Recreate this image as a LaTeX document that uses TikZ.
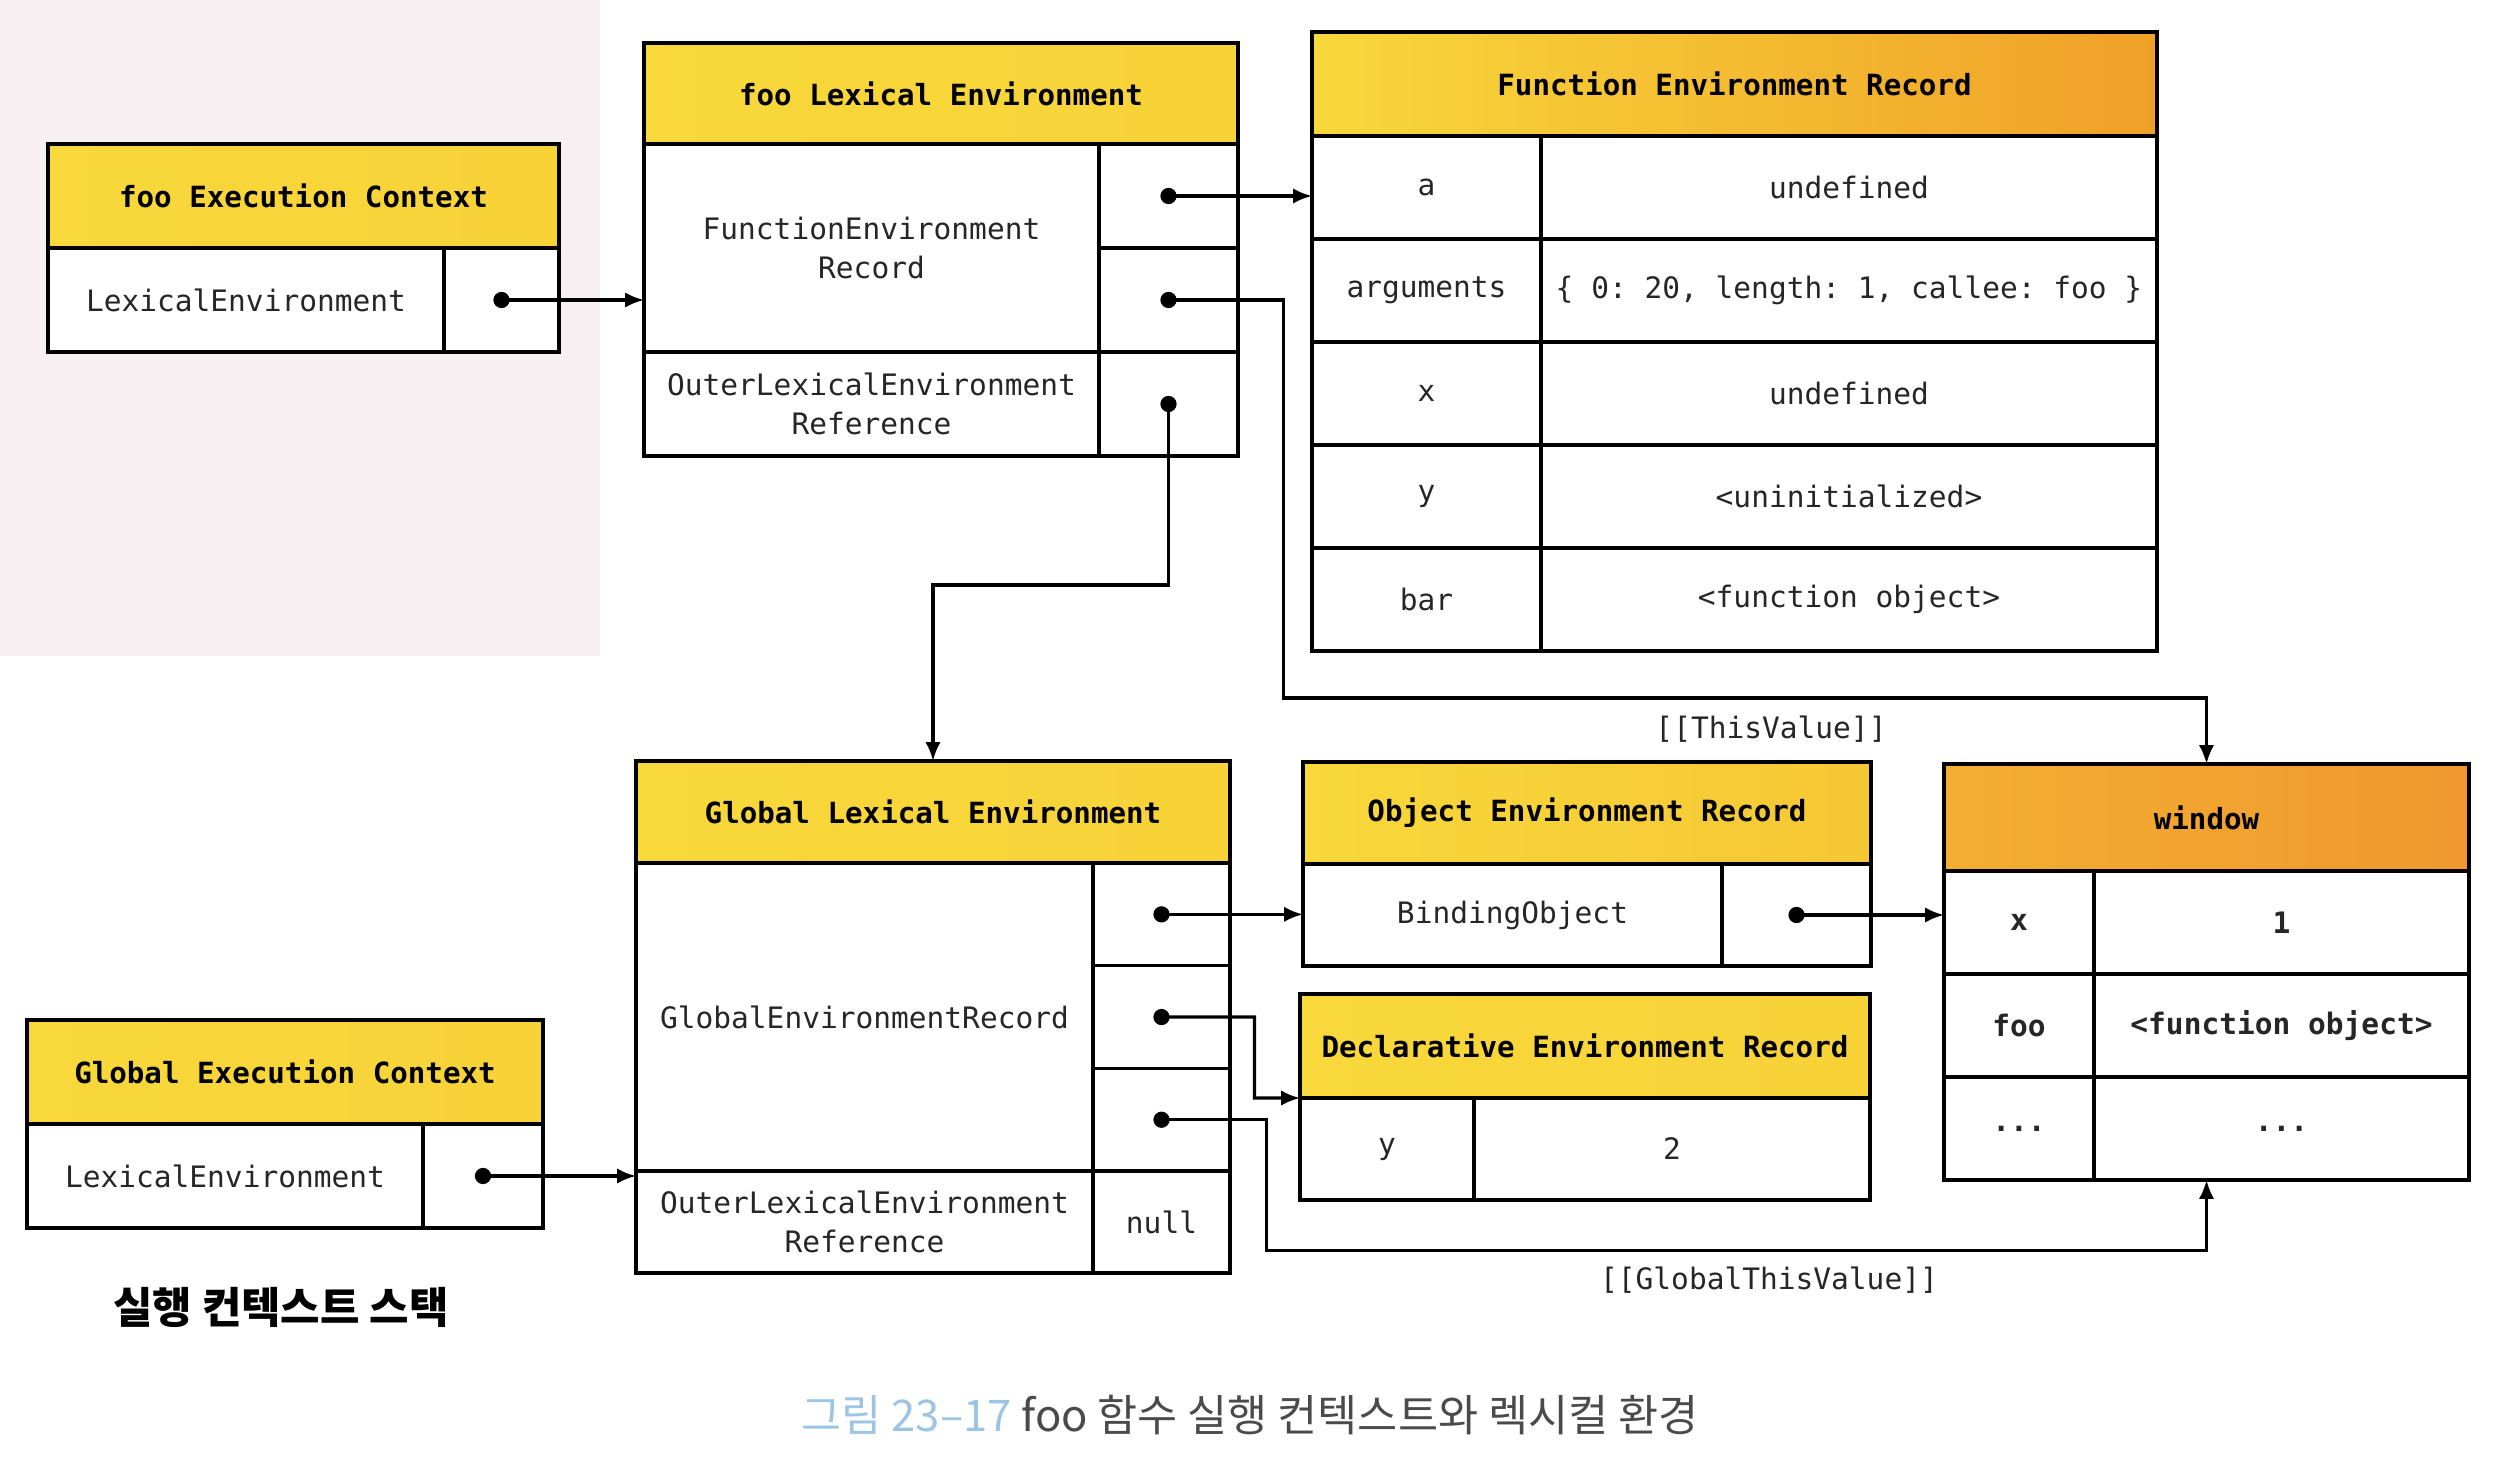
\documentclass[tikz,border=0pt]{standalone}
\usepackage{fontspec}
\setmonofont{DejaVu Sans Mono}
\newfontfamily\krfont{Noto Sans CJK KR}
\usepackage{tikz}
\usetikzlibrary{arrows.meta,positioning,calc}

\definecolor{hdrYellow}{HTML}{F8D83A}
\definecolor{hdrOrange}{HTML}{F0A028}
\definecolor{winOrangeL}{HTML}{F3AE32}
\definecolor{winOrangeR}{HTML}{EF992E}
\definecolor{bgPink}{HTML}{F8EFF2}
\definecolor{capBlue}{HTML}{9CC4E4}
\definecolor{capGray}{HTML}{4A4A4A}

\tikzset{
  hdr/.style={draw, line width=0.95pt, inner sep=0pt, outer sep=0pt, anchor=north west,
    left color=hdrYellow, right color=hdrYellow!90!hdrOrange,
    font=\ttfamily\bfseries\fontsize{8.3}{10}\selectfont},
  cell/.style={draw, fill=white, line width=0.95pt, inner sep=0pt, outer sep=0pt, anchor=north west,
    align=center, text=black!85, font=\ttfamily\fontsize{8.4}{11}\selectfont},
  ptr/.style={line width=0.9pt, shorten <=-2.3pt, {Circle[length=4.6pt]}-{Latex[length=5.4pt,width=4.4pt]}},
  lbl/.style={text=black!85, font=\ttfamily\fontsize{8.4}{10}\selectfont}
}

\begin{document}
\begin{tikzpicture}[y=-1cm]
\useasboundingbox (0,0) rectangle (24.93,14.76);

%shading
\fill[bgPink] (0,0) rectangle (6.0,6.56);

%foo execution context
\node[hdr, minimum width=5.11cm, minimum height=1.04cm] (fecHead) at (0.48,1.44) {foo Execution Context};
\node[cell, minimum width=3.96cm, minimum height=1.04cm] (fecLex) at (fecHead.south west) {LexicalEnvironment};
\node[cell, minimum width=1.15cm, minimum height=1.04cm] (fecPtr) at (fecLex.north east) {};

%foo lexical environment
\node[hdr, minimum width=5.94cm, minimum height=1.01cm] (fleHead) at (6.44,0.43) {foo Lexical Environment};
\node[cell, minimum width=4.55cm, minimum height=2.08cm] (fleRec) at (fleHead.south west) {FunctionEnvironment\\Record};
\node[cell, minimum width=1.39cm, minimum height=1.04cm] (flePtrA) at (fleRec.north east) {};
\node[cell, minimum width=1.39cm, minimum height=1.04cm] (flePtrB) at (flePtrA.south west) {};
\node[cell, minimum width=4.55cm, minimum height=1.04cm] (fleOuter) at (fleRec.south west) {OuterLexicalEnvironment\\Reference};
\node[cell, minimum width=1.39cm, minimum height=1.04cm] (fleOuterPtr) at (fleOuter.north east) {};

%function environment record
\node[hdr, right color=hdrOrange, minimum width=8.45cm, minimum height=1.04cm] (ferHead) at (13.12,0.32) {Function Environment Record};
\node[cell, minimum width=2.29cm, minimum height=1.03cm] (ferKeyA) at (ferHead.south west) {a};
\node[cell, minimum width=6.16cm, minimum height=1.03cm] (ferValA) at (ferKeyA.north east) {undefined};
\node[cell, minimum width=2.29cm, minimum height=1.03cm] (ferKeyArgs) at (ferKeyA.south west) {arguments};
\node[cell, minimum width=6.16cm, minimum height=1.03cm] (ferValArgs) at (ferKeyArgs.north east) {\{ 0: 20, length: 1, callee: foo \}};
\node[cell, minimum width=2.29cm, minimum height=1.03cm] (ferKeyX) at (ferKeyArgs.south west) {x};
\node[cell, minimum width=6.16cm, minimum height=1.03cm] (ferValX) at (ferKeyX.north east) {undefined};
\node[cell, minimum width=2.29cm, minimum height=1.03cm] (ferKeyY) at (ferKeyX.south west) {y};
\node[cell, minimum width=6.16cm, minimum height=1.03cm] (ferValY) at (ferKeyY.north east) {<uninitialized>};
\node[cell, minimum width=2.29cm, minimum height=1.03cm] (ferKeyBar) at (ferKeyY.south west) {bar};
\node[cell, minimum width=6.16cm, minimum height=1.03cm] (ferValBar) at (ferKeyBar.north east) {<function object>};

%global lexical environment
\node[hdr, minimum width=5.94cm, minimum height=1.02cm] (gleHead) at (6.36,7.61) {Global Lexical Environment};
\node[cell, minimum width=4.57cm, minimum height=3.08cm] (gleRec) at (gleHead.south west) {GlobalEnvironmentRecord};
\node[cell, minimum width=1.37cm, minimum height=1.027cm] (glePtrA) at (gleRec.north east) {};
\node[cell, minimum width=1.37cm, minimum height=1.027cm] (glePtrB) at (glePtrA.south west) {};
\node[cell, minimum width=1.37cm, minimum height=1.027cm] (glePtrC) at (glePtrB.south west) {};
\node[cell, minimum width=4.57cm, minimum height=1.02cm] (gleOuter) at (gleRec.south west) {OuterLexicalEnvironment\\Reference};
\node[cell, minimum width=1.37cm, minimum height=1.02cm] (gleNull) at (gleOuter.north east) {null};

%global execution context
\node[hdr, minimum width=5.16cm, minimum height=1.04cm] (gecHead) at (0.27,10.20) {Global Execution Context};
\node[cell, minimum width=3.96cm, minimum height=1.04cm] (gecLex) at (gecHead.south west) {LexicalEnvironment};
\node[cell, minimum width=1.20cm, minimum height=1.04cm] (gecPtr) at (gecLex.north east) {};

%object and declarative environment records
\node[hdr, right color=hdrYellow!70!hdrOrange, minimum width=5.68cm, minimum height=1.02cm] (oerHead) at (13.03,7.62) {Object Environment Record};
\node[cell, minimum width=4.19cm, minimum height=1.02cm] (oerBind) at (oerHead.south west) {BindingObject};
\node[cell, minimum width=1.49cm, minimum height=1.02cm] (oerPtr) at (oerBind.north east) {};
\node[hdr, minimum width=5.70cm, minimum height=1.04cm] (derHead) at (13.00,9.94) {Declarative Environment Record};
\node[cell, minimum width=1.74cm, minimum height=1.02cm] (derKeyY) at (derHead.south west) {y};
\node[cell, minimum width=3.96cm, minimum height=1.02cm] (derValY) at (derKeyY.north east) {2};

%window object
\node[hdr, left color=winOrangeL, right color=winOrangeR, minimum width=5.25cm, minimum height=1.07cm] (winHead) at (19.44,7.64) {window};
\node[cell, font=\ttfamily\bfseries\fontsize{8.4}{11}\selectfont, minimum width=1.50cm, minimum height=1.03cm] (winKeyX) at (winHead.south west) {x};
\node[cell, font=\ttfamily\bfseries\fontsize{8.4}{11}\selectfont, minimum width=3.75cm, minimum height=1.03cm] (winValX) at (winKeyX.north east) {1};
\node[cell, font=\ttfamily\bfseries\fontsize{8.4}{11}\selectfont, minimum width=1.50cm, minimum height=1.03cm] (winKeyFoo) at (winKeyX.south west) {foo};
\node[cell, font=\ttfamily\bfseries\fontsize{8.4}{11}\selectfont, minimum width=3.75cm, minimum height=1.03cm] (winValFoo) at (winKeyFoo.north east) {<function object>};
\node[cell, font=\ttfamily\bfseries\fontsize{8.4}{11}\selectfont, minimum width=1.50cm, minimum height=1.03cm] (winKeyEtc) at (winKeyFoo.south west) {...};
\node[cell, font=\ttfamily\bfseries\fontsize{8.4}{11}\selectfont, minimum width=3.75cm, minimum height=1.03cm] (winValEtc) at (winKeyEtc.north east) {...};
\coordinate (winBot) at (winHead.north |- winKeyEtc.south);

%pointers
\draw[ptr] (fecPtr.center) -- (fecPtr.center -| fleRec.west);
\draw[ptr] (flePtrA.center) -- (flePtrA.center -| ferKeyA.west);
\draw[ptr] (flePtrB.center) -| ++(1.15,3.98) -| (winHead.north);
\draw[ptr] (fleOuterPtr.center) |- (gleHead.north |- 0,5.85) -- (gleHead.north);
\draw[ptr] (gecPtr.center) -- (gecPtr.center -| gleRec.west);
\draw[ptr] (glePtrA.center) -- (glePtrA.center -| oerBind.west);
\draw[ptr] (glePtrB.center) -| ++(0.93,0.81) -- (derHead.south west);
\draw[ptr] (glePtrC.center) -| ++(1.05,1.31) -| (winBot);
\draw[ptr] (oerPtr.center) -- (oerPtr.center -| winKeyX.west);

%labels
\node[lbl] (thisLbl) at (17.71,7.29) {[[ThisValue]]};
\node[lbl] (globalThisLbl) at (17.69,12.80) {[[GlobalThisValue]]};
\node[font=\krfont\bfseries\fontsize{12.2}{14}\selectfont] (stackLbl) at (2.81,13.07) {실행 컨텍스트 스택};
\node[text=capGray, font=\krfont\fontsize{12.4}{15}\selectfont] (caption) at (12.5,14.15) {\textcolor{capBlue}{그림 23–17} foo 함수 실행 컨텍스트와 렉시컬 환경};
\end{tikzpicture}
\end{document}
